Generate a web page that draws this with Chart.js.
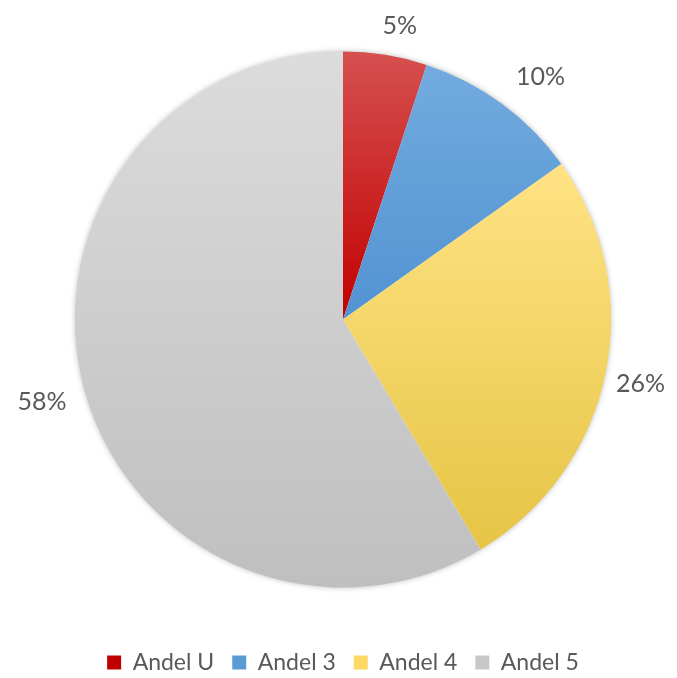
<!DOCTYPE html>
<html>
<head>
<meta charset="utf-8">
<script src="https://cdn.jsdelivr.net/npm/chart.js@4.4.1/dist/chart.umd.min.js"></script>
<style>
html,body{margin:0;padding:0;background:#fff;overflow:hidden;}
#wrap{width:677px;height:678px;position:relative;}
</style>
</head>
<body>
<div id="wrap"><canvas id="c" width="677" height="678"></canvas></div>
<script>
const categories = ["Andel U", "Andel 3", "Andel 4", "Andel 5"];
const values = [5, 10, 26, 58];
const valueLabels = ["5%", "10%", "26%", "58%"];
const gradTop = ["#d65050", "#72abde", "#ffe384", "#dcdcdc"];
const gradBottom = ["#c20000", "#5293d2", "#e6c445", "#bfbfbf"];
const legendColors = ["#c00000", "#5b9bd5", "#ffd966", "#c8c8c8"];
const labelNudge = [[8, 11], [15, 5], [-4, 1], [-4, 0]];

const sliceGradients = {
  id: 'sliceGradients',
  beforeDatasetsDraw(chart) {
    const ctx = chart.ctx;
    const meta = chart.getDatasetMeta(0);
    meta.data.forEach((el, i) => {
      const r = el.outerRadius, cx = el.x, cy = el.y;
      const sa = el.startAngle, ea = el.endAngle;
      const ys = [cy, cy + r * Math.sin(sa), cy + r * Math.sin(ea)];
      for (const a of [-Math.PI / 2, Math.PI / 2, 3 * Math.PI / 2]) {
        if (a >= sa && a <= ea) ys.push(cy + r * Math.sin(a));
      }
      const y0 = Math.min(...ys), y1 = Math.max(...ys);
      const g = ctx.createLinearGradient(0, y0, 0, y1 + 0.01);
      g.addColorStop(0, gradTop[i]);
      g.addColorStop(1, gradBottom[i]);
      el.options.backgroundColor = g;
    });
    const el0 = meta.data[0];
    ctx.save();
    ctx.shadowColor = 'rgba(0,0,0,0.35)';
    ctx.shadowBlur = 6;
    ctx.fillStyle = '#ffffff';
    ctx.beginPath();
    ctx.arc(el0.x, el0.y, el0.outerRadius - 1, 0, Math.PI * 2);
    ctx.fill();
    ctx.restore();
  }
};

const outsideLabels = {
  id: 'outsideLabels',
  afterDatasetsDraw(chart) {
    const ctx = chart.ctx;
    const meta = chart.getDatasetMeta(0);
    ctx.save();
    ctx.font = '25px Lato, "Open Sans", sans-serif';
    ctx.fillStyle = '#595959';
    ctx.textAlign = 'center';
    ctx.textBaseline = 'middle';
    meta.data.forEach((el, i) => {
      const mid = (el.startAngle + el.endAngle) / 2;
      const rr = el.outerRadius + 40;
      ctx.fillText(valueLabels[i],
        el.x + rr * Math.cos(mid) + labelNudge[i][0],
        el.y + rr * Math.sin(mid) + labelNudge[i][1]);
    });
    ctx.restore();
  }
};

new Chart(document.getElementById('c'), {
  type: 'pie',
  data: {
    labels: categories,
    datasets: [{
      data: values,
      backgroundColor: legendColors,
      borderWidth: 0
    }]
  },
  options: {
    responsive: false,
    animation: false,
    radius: 268,
    layout: { padding: { top: 6, bottom: -6, left: 9, right: 0 } },
    plugins: {
      tooltip: { enabled: false },
      legend: {
        position: 'bottom',
        labels: {
          padding: 18,
          boxWidth: 14,
          boxHeight: 14,
          color: '#595959',
          font: { size: 23, family: 'Lato, "Open Sans", sans-serif' },
          generateLabels(chart) {
            return categories.map((c, i) => ({
              text: c,
              fillStyle: legendColors[i],
              strokeStyle: legendColors[i],
              lineWidth: 0,
              fontColor: '#595959',
              index: i
            }));
          }
        }
      }
    }
  },
  plugins: [sliceGradients, outsideLabels]
});
</script>
</body>
</html>
